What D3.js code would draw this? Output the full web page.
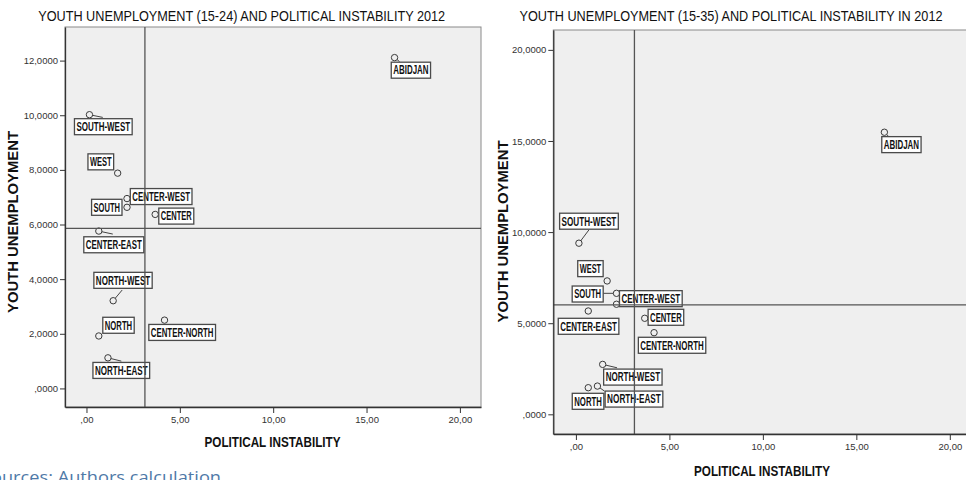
<!DOCTYPE html>
<html>
<head>
<meta charset="utf-8">
<script src="https://cdn.jsdelivr.net/npm/d3@7"></script>
<style>
  html, body { margin: 0; padding: 0; background: #ffffff; }
  svg { display: block; }
</style>
</head>
<body>
<svg id="chart" width="966" height="480"></svg>
<script>
// ---------------- DATA ----------------
const regions = ["ABIDJAN", "SOUTH-WEST", "WEST", "CENTER-WEST", "SOUTH", "CENTER",
                 "CENTER-EAST", "NORTH-WEST", "NORTH", "CENTER-NORTH", "NORTH-EAST"];
const politicalInstability = [16.5, 0.16, 1.67, 2.17, 2.17, 3.68, 0.66, 1.43, 0.66, 4.18, 1.15];
const youthUnemp1524 = [12.11, 10.02, 7.88, 6.95, 6.63, 6.37, 5.76, 3.21, 1.92, 2.50, 1.12];
const youthUnemp1535 = [15.48, 9.39, 7.32, 6.04, 6.64, 5.27, 5.67, 2.74, 1.46, 4.48, 1.55];
const xTicks = [0, 5, 10, 15, 20];
const yTicksLeft = [0, 2, 4, 6, 8, 10, 12];
const yTicksRight = [0, 5, 10, 15, 20];
const titleLeft = "YOUTH UNEMPLOYMENT (15-24) AND POLITICAL INSTABILITY 2012";
const titleRight = "YOUTH UNEMPLOYMENT (15-35) AND POLITICAL INSTABILITY IN 2012";
const xTitle = "POLITICAL INSTABILITY";
const yTitle = "YOUTH UNEMPLOYMENT";
const sourceNote = "Sources: Authors calculation";

// ---------------- LAYOUT (label box placement, px relative to point) ----------------
const layoutLeft = {
  "ABIDJAN":      {dx: -3.3, dy: 4.6,  w: 39.3, c: [5, 4]},
  "SOUTH-WEST":   {dx: -15,  dy: 4,    w: 57.7, c: [13.3, 2.7]},
  "WEST":         {dx: -29.7,dy: -19.3,w: 25.7},
  "CENTER-WEST":  {dx: 3.3,  dy: -10,  w: 61.7},
  "SOUTH":        {dx: -35.4,dy: -8,   w: 30.4},
  "CENTER":       {dx: 3.6,  dy: -6.3, w: 35},
  "CENTER-EAST":  {dx: -15,  dy: 5.7,  w: 60,   c: [14, 3]},
  "NORTH-WEST":   {dx: -19.3,dy: -28.4,w: 58.3, c: [9, -10.7]},
  "NORTH":        {dx: 4,    dy: -18.7,w: 31.4},
  "CENTER-NORTH": {dx: -15.7,dy: 4.3,  w: 66.7},
  "NORTH-EAST":   {dx: -15,  dy: 4.6,  w: 56.7, c: [13.4, 3.3]}
};
const layoutRight = {
  "ABIDJAN":      {dx: -2.6, dy: 4.4,  w: 39.3, c: [5, 5]},
  "SOUTH-WEST":   {dx: -19.3,dy: -30,  w: 58.7, c: [10, -13.3]},
  "WEST":         {dx: -29.4,dy: -20.3,w: 25.4},
  "CENTER-WEST":  {dx: 3,    dy: -13.6,w: 62.7},
  "SOUTH":        {dx: -44.3,dy: -7.3, w: 31,   c: [-13.3, 0]},
  "CENTER":       {dx: 3.4,  dy: -9,   w: 35.6},
  "CENTER-EAST":  {dx: -30,  dy: 7.3,  w: 60.6},
  "NORTH-WEST":   {dx: 1,    dy: 4.7,  w: 58.4, c: [14.4, 3.4]},
  "NORTH":        {dx: -16,  dy: 5.6,  w: 31.6},
  "CENTER-NORTH": {dx: -15.7,dy: 4.6,  w: 67.4},
  "NORTH-EAST":   {dx: 7.7,  dy: 5,    w: 57.7, c: [7, 5]}
};

const svg = d3.select("#chart");
const fmtX = v => (v === 0 ? "" : d3.format("d")(v)) + ",00";
const fmtY = v => (v === 0 ? "" : d3.format("d")(v)) + ",0000";

function drawPanel(cfg) {
  const g = svg.append("g");
  const x = d3.scaleLinear().domain(cfg.xDomain).range([cfg.left, cfg.right]);
  const y = d3.scaleLinear().domain(cfg.yDomain).range([cfg.bottom, cfg.top]);
  const data = regions.map((r, i) => ({name: r, px: politicalInstability[i], py: cfg.values[i]}));

  // background
  g.append("rect")
    .attr("x", cfg.left).attr("y", cfg.top)
    .attr("width", cfg.right - cfg.left).attr("height", cfg.bottom - cfg.top)
    .attr("fill", "#efefef").attr("stroke", "#8a8a8a").attr("stroke-width", 1);

  // connectors
  data.forEach(d => {
    const L = cfg.layout[d.name];
    if (L.c) {
      g.append("line")
        .attr("x1", x(d.px)).attr("y1", y(d.py))
        .attr("x2", x(d.px) + L.c[0]).attr("y2", y(d.py) + L.c[1])
        .attr("stroke", "#444").attr("stroke-width", 1);
    }
  });

  // points
  g.selectAll("circle.pt").data(data).enter().append("circle")
    .attr("class", "pt")
    .attr("cx", d => x(d.px)).attr("cy", d => y(d.py)).attr("r", 3.2)
    .attr("fill", "#efefef").attr("stroke", "#3a3a3a").attr("stroke-width", 1);

  // label boxes
  data.forEach(d => {
    const L = cfg.layout[d.name];
    const bx = x(d.px) + L.dx, by = y(d.py) + L.dy, bh = 16;
    g.append("rect")
      .attr("x", bx).attr("y", by).attr("width", L.w).attr("height", bh)
      .attr("fill", "#ffffff").attr("stroke", "#4a4a4a").attr("stroke-width", 1.3);
    g.append("text")
      .attr("x", bx + L.w / 2).attr("y", by + bh / 2 + 4.3)
      .attr("text-anchor", "middle")
      .attr("font-family", "Liberation Sans, Arial, sans-serif")
      .attr("font-weight", "bold").attr("font-size", 12)
      .attr("textLength", L.w - 4).attr("lengthAdjust", "spacingAndGlyphs")
      .attr("fill", "#111")
      .text(d.name);
  });

  // reference lines at the means
  const mx = d3.mean(data, d => d.px), my = d3.mean(data, d => d.py);
  g.append("line")
    .attr("x1", x(mx)).attr("x2", x(mx)).attr("y1", cfg.top).attr("y2", cfg.bottom)
    .attr("stroke", "#555").attr("stroke-width", 1.3);
  g.append("line")
    .attr("x1", cfg.left).attr("x2", cfg.right).attr("y1", y(my)).attr("y2", y(my))
    .attr("stroke", "#555").attr("stroke-width", 1.3);

  // axes
  const ax = g.append("g").attr("transform", `translate(0,${cfg.bottom})`)
    .call(d3.axisBottom(x).tickValues(xTicks).tickFormat(fmtX)
      .tickSize(6).tickSizeOuter(0).tickPadding(3));
  const ay = g.append("g").attr("transform", `translate(${cfg.left},0)`)
    .call(d3.axisLeft(y).tickValues(cfg.yTicks).tickFormat(fmtY)
      .tickSize(5).tickSizeOuter(0).tickPadding(2));
  [ax, ay].forEach(a => {
    a.select(".domain").attr("stroke", "#333").attr("stroke-width", 1.3);
    a.selectAll(".tick line").attr("stroke", "#333");
    a.selectAll(".tick text")
      .attr("font-family", "Liberation Sans, Arial, sans-serif")
      .attr("font-size", 9.5).attr("fill", "#333");
  });

  // titles
  g.append("text")
    .attr("x", cfg.titleX).attr("y", 21).attr("text-anchor", "middle")
    .attr("font-family", "Liberation Sans, Arial, sans-serif").attr("font-size", 15)
    .attr("textLength", cfg.titleW).attr("lengthAdjust", "spacingAndGlyphs")
    .attr("fill", "#111").text(cfg.title);
  g.append("text")
    .attr("x", cfg.xTitleX).attr("y", cfg.xTitleY).attr("text-anchor", "middle")
    .attr("font-family", "Liberation Sans, Arial, sans-serif").attr("font-size", 14)
    .attr("font-weight", "bold")
    .attr("textLength", 136).attr("lengthAdjust", "spacingAndGlyphs")
    .attr("fill", "#111").text(xTitle);
  g.append("text")
    .attr("transform", `translate(${cfg.yTitleX},${cfg.yTitleY}) rotate(-90)`)
    .attr("text-anchor", "middle")
    .attr("font-family", "Liberation Sans, Arial, sans-serif").attr("font-size", 14)
    .attr("font-weight", "bold")
    .attr("textLength", 182).attr("lengthAdjust", "spacingAndGlyphs")
    .attr("fill", "#111").text(yTitle);
}

drawPanel({
  left: 65, right: 481, top: 27, bottom: 407,
  xDomain: [-1.15, 21.13], yDomain: [-0.68, 13.23],
  values: youthUnemp1524, yTicks: yTicksLeft, layout: layoutLeft,
  title: titleLeft, titleX: 241.7, titleW: 407,
  xTitleX: 272.5, xTitleY: 447.3, yTitleX: 18.3, yTitleY: 222
});
drawPanel({
  left: 553.3, right: 970, top: 30, bottom: 434,
  xDomain: [-1.21, 21.08], yDomain: [-1.08, 21.09],
  values: youthUnemp1535, yTicks: yTicksRight, layout: layoutRight,
  title: titleRight, titleX: 731, titleW: 423,
  xTitleX: 762, xTitleY: 476, yTitleX: 508.3, yTitleY: 231.5
});

// source note (partially cut on the left edge, as in the reference)
svg.append("text")
  .attr("x", -19).attr("y", 483).attr("text-anchor", "start")
  .attr("font-family", "Open Sans, Liberation Sans, sans-serif").attr("font-size", 17)
  .attr("textLength", 240).attr("lengthAdjust", "spacingAndGlyphs")
  .attr("fill", "#4f79a8").text(sourceNote);
</script>
</body>
</html>
